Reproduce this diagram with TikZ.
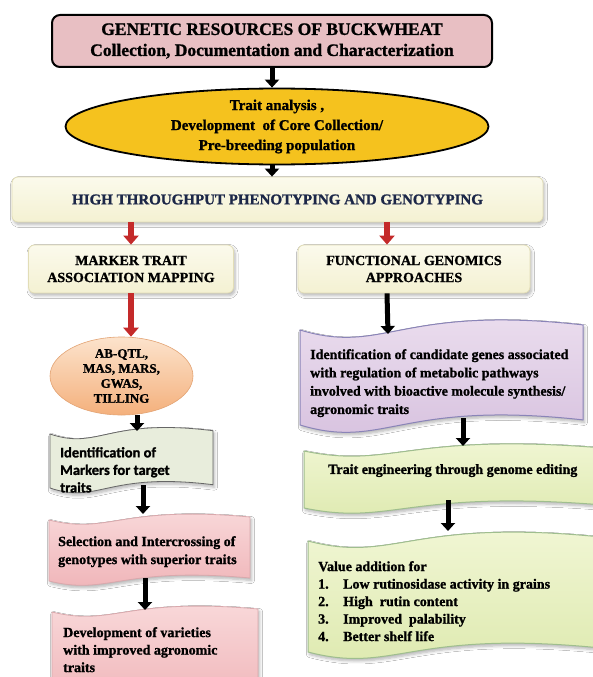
\documentclass[tikz,border=0pt]{standalone}
\usepackage{fontspec}
\setmainfont{Liberation Serif}[BoldFeatures={FakeBold=1.2}]
\newfontfamily\calibfont{Carlito}[BoldFeatures={FakeBold=1.2}]
\usetikzlibrary{arrows.meta,shapes.geometric,shadows,shadows.blur}
\definecolor{topPink}{HTML}{E8BFC3}
\definecolor{gold}{HTML}{F5C21E}
\definecolor{creamT}{HTML}{FBFAEC}
\definecolor{creamBt}{HTML}{F4F1D2}
\definecolor{creamD}{HTML}{E2DDB6}
\definecolor{navy}{HTML}{1C2748}
\definecolor{arrRed}{HTML}{C42A2A}
\definecolor{peachT}{HTML}{FCE3CC}
\definecolor{peachB}{HTML}{F4B07C}
\definecolor{peachD}{HTML}{E3A373}
\definecolor{sage}{HTML}{E8EDDC}
\definecolor{pinkT}{HTML}{F9DADB}
\definecolor{pinkB}{HTML}{EFB2B6}
\definecolor{pinkD}{HTML}{D9A8AC}
\definecolor{lavT}{HTML}{ECDFEF}
\definecolor{lavB}{HTML}{D6C0DE}
\definecolor{lavD}{HTML}{8A84B8}
\definecolor{limeT}{HTML}{F2F7D6}
\definecolor{limeB}{HTML}{DDE9AE}
\definecolor{limeD}{HTML}{9FBE8E}
\newcommand\wvbox[6]{%
\pgfmathsetmacro\wvp{#2+0.3*(#3-#2)}%
\pgfmathsetmacro\wvq{#2+0.35*(#3-#2)}%
\path[#1] (#2,#4) .. controls (\wvp,#4+3*#6) and (\wvq,#4-3*#6) .. (#3,#4-0.6*#6) -- (#3,#5-0.6*#6) .. controls (\wvq,#5-3*#6) and (\wvp,#5+3*#6) .. (#2,#5) -- cycle;}
\begin{document}
\begin{tikzpicture}[x=1pt,y=-1pt,
  shd/.style={blur shadow={shadow xshift=1.5pt, shadow yshift=-2.5pt, shadow blur radius=3pt, shadow blur steps=6, shadow opacity=30}},
  topbox/.style={rectangle, rounded corners=8pt, draw=black, line width=2pt, fill=topPink, minimum width=440pt, minimum height=52pt, align=center, inner sep=0pt, font=\bfseries\fontsize{17.5}{21}\selectfont},
  goldell/.style={ellipse, draw=black, line width=1.8pt, fill=gold, minimum width=423pt, minimum height=69pt, inner sep=0pt, align=center, font=\bfseries\fontsize{15}{20}\selectfont},
  cbox/.style={rectangle, rounded corners=6pt, draw=creamD, line width=0.8pt, top color=creamT, bottom color=creamBt, shd, align=center, inner sep=0pt, font=\bfseries\fontsize{14}{17}\selectfont},
  peachell/.style={ellipse, draw=peachD, line width=0.6pt, top color=peachT, bottom color=peachB, minimum width=143pt, minimum height=78pt, inner sep=0pt, align=center, font=\bfseries\fontsize{13}{15}\selectfont},
  txt/.style={anchor=north west, inner sep=0pt, align=left, font=\bfseries\fontsize{14}{18}\selectfont},
  blk/.style={draw=black, line width=5pt, -{Triangle[width=14pt,length=8pt]}},
  redarr/.style={draw=arrRed, line width=6.5pt, -{Triangle[width=15pt,length=9pt]}},
  wsage/.style={fill=sage, draw=black!60, line width=0.8pt, shd},
  wpink/.style={top color=pinkT, bottom color=pinkB, draw=pinkD, line width=0.8pt, shd},
  wlav/.style={top color=lavT, bottom color=lavB, draw=lavD, line width=1pt, shd},
  wlime/.style={top color=limeT, bottom color=limeB, draw=limeD, line width=1pt, shd}]
\useasboundingbox (0,0) rectangle (593,677);
\fill[white] (0,0) rectangle (593,677);

% top part
\node[topbox] (gr) at (272,41) {GENETIC RESOURCES OF BUCKWHEAT\\Collection, Documentation and Characterization};
\node[goldell] (tc) at (277,126.5) {Trait analysis ,\\Development\ \ of Core Collection/\\Pre-breeding population};
\node[cbox, minimum width=531pt, minimum height=45pt, text=navy, font=\bfseries\fontsize{15}{18}\selectfont] (htp) at (277.5,199.5) {HIGH THROUGHPUT PHENOTYPING AND GENOTYPING};
\node[cbox, minimum width=205pt, minimum height=48pt] (mta) at (131,269) {MARKER TRAIT\\ASSOCIATION MAPPING};
\node[cbox, minimum width=232pt, minimum height=48pt] (fga) at (414,269) {FUNCTIONAL GENOMICS\\APPROACHES};
\node[peachell] (abq) at (121.5,376) {AB-QTL,\\MAS, MARS,\\GWAS,\\TILLING};

% wave boxes
\wvbox{wsage}{50}{213}{434}{488}{5.5}
\wvbox{wpink}{49}{250}{520}{581}{5}
\wvbox{wpink}{52}{258}{612}{700}{5}
\wvbox{wlav}{300}{583}{330}{425}{8.5}
\wvbox{wlime}{304}{596}{451}{508}{6}
\wvbox{wlime}{308}{596}{541}{652}{7.5}

\node[txt, font=\calibfont\bfseries\fontsize{14.5}{17.5}\selectfont] (im) at (60,447) {Identification of\\Markers for target\\traits};
\node[txt] (sel) at (58,536) {Selection and Intercrossing of\\genotypes with superior traits};
\node[txt, font=\bfseries\fontsize{14}{17.5}\selectfont] (dev) at (63,627) {Development of varieties\\with improved agronomic\\traits};
\node[txt, font=\bfseries\fontsize{14}{18.3}\selectfont] (cg) at (310,349) {Identification of candidate genes associated\\with regulation of metabolic pathways\\involved with bioactive molecule synthesis/\\agronomic traits};
\node[txt] (te) at (328,464) {Trait engineering through genome editing};
\node[txt, font=\bfseries\fontsize{14}{17.5}\selectfont] (va) at (318,561) {Value addition for\\\makebox[25pt][l]{1.}Low rutinosidase activity in grains\\\makebox[25pt][l]{2.}High\ \ rutin content\\\makebox[25pt][l]{3.}Improved\ \ palability\\\makebox[25pt][l]{4.}Better shelf life};

% arrow anchor coordinates
\coordinate (ax) at (272,0);
\coordinate (rx) at (387,0);
\coordinate (imT) at (137,431);
\coordinate (imB) at (143,485);
\coordinate (selT) at (143,514);
\coordinate (selB) at (145,578);
\coordinate (devT) at (145,610);
\coordinate (cgT) at (388,334);
\coordinate (cgB) at (463,418);
\coordinate (teT) at (463,446);
\coordinate (teB) at (448,500);
\coordinate (vaT) at (448,531);

% connectors
\draw[blk] (gr.south -| ax) -- (tc.north -| ax);
\draw[blk] (tc.south -| ax) -- (htp.north -| ax);
\draw[redarr] (htp.south -| mta.north) -- (mta.north);
\draw[redarr] (htp.south -| rx) -- (fga.north -| rx);
\draw[redarr] (mta.south) -- (mta.south |- abq.north);
\draw[blk] (fga.south -| rx) -- (cgT);
\draw[blk] (abq.south -| imT) -- (imT);
\draw[blk] (imB) -- (selT);
\draw[blk] (selB) -- (devT);
\draw[blk] (cgB) -- (teT);
\draw[blk] (teB) -- (vaT);
\end{tikzpicture}
\end{document}
